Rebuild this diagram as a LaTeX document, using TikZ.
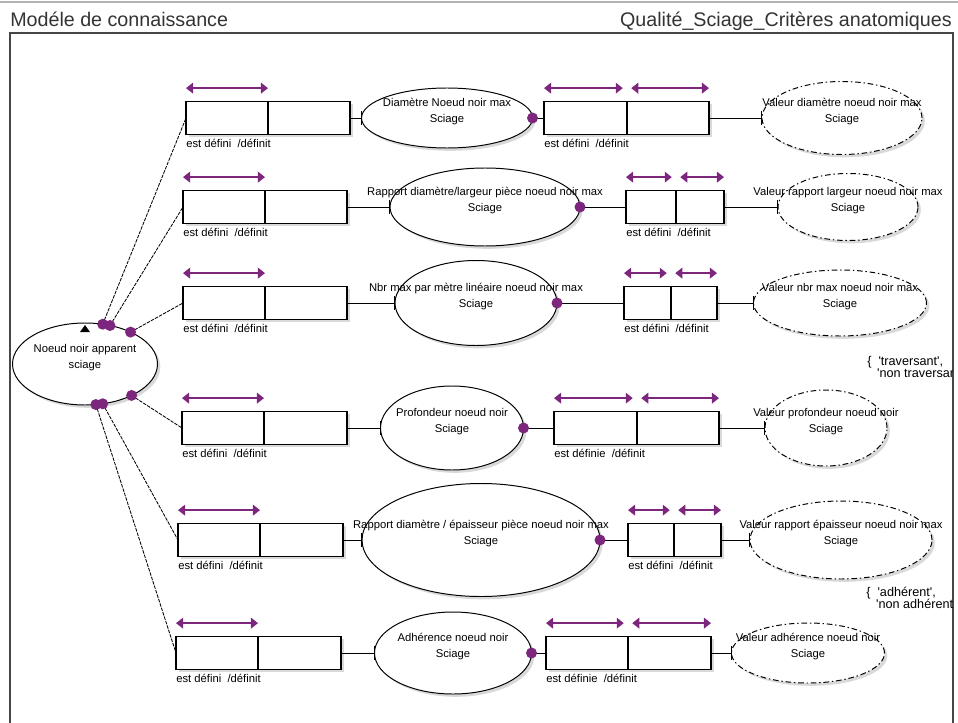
\documentclass[tikz,border=0pt]{standalone}
\usepackage{fontspec}
\setmainfont{Liberation Sans}
\usepackage{tikz}
\usetikzlibrary{shapes.geometric,arrows.meta,positioning,shadows,calc}
\definecolor{cardinal}{RGB}{125,38,125}
\definecolor{cadre}{RGB}{70,70,70}
\newcommand{\pxl}{0.025cm}

\begin{document}
\begin{tikzpicture}[
  x=0.025cm, y=-0.025cm,
  font=\fontsize{8}{11}\selectfont,
  ombre/.style={drop shadow={opacity=0.3,shadow xshift=2pt,shadow yshift=-2pt}},
  entite/.style={draw,ellipse,fill=white,inner sep=0pt,outer sep=0pt,line width=0.7pt,ombre},
  valeur/.style={entite,dash pattern=on 4pt off 2pt on 1pt off 2pt},
  cellule/.style={draw,rectangle,fill=white,minimum height=33*\pxl,inner sep=0pt,outer sep=0pt,line width=1pt,ombre},
  texte/.style={align=center,yshift=4.5pt},
  role/.style={inner sep=0pt},
  card/.style={{Triangle[length=5pt,width=7.5pt]}-{Triangle[length=5pt,width=7.5pt]},line width=1.3pt,color=cardinal},
  pastille/.style={circle,fill=cardinal,inner sep=0pt,minimum size=11*\pxl},
  lien/.style={line width=0.7pt},
  lienbar/.style={lien,-{Bar[width=10pt]}},
  assoc/.style={line width=0.6pt,dash pattern=on 2.5pt off 0.8pt},
  titre/.style={font=\fontsize{14}{16}\selectfont,text=black!80,inner sep=0pt},
  domaine/.style={font=\fontsize{9}{8.5}\selectfont,align=left,inner sep=0pt,anchor=north west},
]
\useasboundingbox (0,0) rectangle (958,722);

% en-tete
\draw[black!30,line width=1.5pt] (0,2) -- (958,2);
\node[titre,anchor=base west] (titreg) at (10,27) {Modéle de connaissance};
\node[titre,anchor=base east] (titred) at (952,27) {Qualité\_Sciage\_Critères anatomiques};
\draw[cadre,line width=1.3pt] (10,740) -- (10,33) -- (953,33) -- (953,740);

% entite centrale
\node[entite,minimum width=145*\pxl,minimum height=82*\pxl] (noeud) at (85,364) {};
\node[texte] (tnoeud) at (noeud) {Noeud noir apparent\\sciage};
\fill ($(noeud.north)+(-5,9)$) -- ++(10,0) -- ++(-5,-7) -- cycle;

% ligne 1
\node[cellule,minimum width=82*\pxl] (r1a) at (227,118) {};
\node[cellule,minimum width=82*\pxl,right=0pt of r1a] (r1b) {};
\node[entite,minimum width=171*\pxl,minimum height=60*\pxl] (e1) at (447,118) {};
\node[texte] (te1) at (e1) {Diamètre Noeud noir max\\Sciage};
\node[cellule,minimum width=83*\pxl] (r1c) at (585.5,118) {};
\node[cellule,minimum width=82*\pxl,right=0pt of r1c] (r1d) {};
\node[valeur,minimum width=160*\pxl,minimum height=73*\pxl] (v1) at (842,118) {};
\node[texte] (tv1) at (v1) {Valeur diamètre noeud noir max\\Sciage};

% ligne 2
\node[cellule,minimum width=82*\pxl] (r2a) at (224,207) {};
\node[cellule,minimum width=82*\pxl,right=0pt of r2a] (r2b) {};
\node[entite,minimum width=190*\pxl,minimum height=78*\pxl] (e2) at (485,207) {};
\node[texte] (te2) at (e2) {Rapport diamètre/largeur pièce noeud noir max\\Sciage};
\node[cellule,minimum width=50*\pxl] (r2c) at (651,207) {};
\node[cellule,minimum width=48*\pxl,right=0pt of r2c] (r2d) {};
\node[valeur,minimum width=140*\pxl,minimum height=67*\pxl] (v2) at (848,207) {};
\node[texte] (tv2) at (v2) {Valeur rapport largeur noeud noir max\\Sciage};

% ligne 3
\node[cellule,minimum width=82*\pxl] (r3a) at (224,303) {};
\node[cellule,minimum width=82*\pxl,right=0pt of r3a] (r3b) {};
\node[entite,minimum width=162*\pxl,minimum height=85*\pxl] (e3) at (476,303) {};
\node[texte] (te3) at (e3) {Nbr max par mètre linéaire noeud noir max\\Sciage};
\node[cellule,minimum width=47*\pxl] (r3c) at (647.5,303) {};
\node[cellule,minimum width=46*\pxl,right=0pt of r3c] (r3d) {};
\node[valeur,minimum width=173*\pxl,minimum height=66*\pxl] (v3) at (840,303) {};
\node[texte] (tv3) at (v3) {Valeur nbr max noeud noir max\\Sciage};

% ligne 4
\node[cellule,minimum width=82*\pxl] (r4a) at (223,428) {};
\node[cellule,minimum width=83*\pxl,right=0pt of r4a] (r4b) {};
\node[entite,minimum width=143*\pxl,minimum height=84*\pxl] (e4) at (452,428) {};
\node[texte] (te4) at (e4) {Profondeur noeud noir\\Sciage};
\node[cellule,minimum width=83*\pxl] (r4c) at (595.5,428) {};
\node[cellule,minimum width=82*\pxl,right=0pt of r4c] (r4d) {};
\node[valeur,minimum width=122*\pxl,minimum height=76*\pxl] (v4) at (826,428) {};
\node[texte] (tv4) at (v4) {Valeur profondeur noeud noir\\Sciage};

% ligne 5
\node[cellule,minimum width=82*\pxl] (r5a) at (219,540) {};
\node[cellule,minimum width=83*\pxl,right=0pt of r5a] (r5b) {};
\node[entite,minimum width=238*\pxl,minimum height=113*\pxl] (e5) at (481,540) {};
\node[texte] (te5) at (e5) {Rapport diamètre / épaisseur pièce noeud noir max\\Sciage};
\node[cellule,minimum width=46*\pxl] (r5c) at (651,540) {};
\node[cellule,minimum width=47*\pxl,right=0pt of r5c] (r5d) {};
\node[valeur,minimum width=182*\pxl,minimum height=78*\pxl] (v5) at (841,540) {};
\node[texte] (tv5) at (v5) {Valeur rapport épaisseur noeud noir max\\Sciage};

% ligne 6
\node[cellule,minimum width=82*\pxl] (r6a) at (217,653) {};
\node[cellule,minimum width=83*\pxl,right=0pt of r6a] (r6b) {};
\node[entite,minimum width=157*\pxl,minimum height=82*\pxl] (e6) at (453,653) {};
\node[texte] (te6) at (e6) {Adhérence noeud noir\\Sciage};
\node[cellule,minimum width=82*\pxl] (r6c) at (587,653) {};
\node[cellule,minimum width=83*\pxl,right=0pt of r6c] (r6d) {};
\node[valeur,minimum width=153*\pxl,minimum height=60*\pxl] (v6) at (808,653) {};
\node[texte] (tv6) at (v6) {Valeur adhérence noeud noir\\Sciage};

% liens
\draw[lienbar] (r1b.east) -- (e1.west);
\draw[lienbar] (r2b.east) -- (e2.west);
\draw[lienbar] (r3b.east) -- (e3.west);
\draw[lienbar] (r4b.east) -- (e4.west);
\draw[lienbar] (r5b.east) -- (e5.west);
\draw[lienbar] (r6b.east) -- (e6.west);

\draw[lien] (e1.east) -- (r1c.west);
\draw[lien] (e2.east) -- (r2c.west);
\draw[lien] (e3.east) -- (r3c.west);
\draw[lien] (e4.east) -- (r4c.west);
\draw[lien] (e5.east) -- (r5c.west);
\draw[lien] (e6.east) -- (r6c.west);

\draw[lienbar] (r1d.east) -- (v1.west);
\draw[lienbar] (r2d.east) -- (v2.west);
\draw[lienbar] (r3d.east) -- (v3.west);
\draw[lienbar] (r4d.east) -- (v4.west);
\draw[lienbar] (r5d.east) -- (v5.west);
\draw[lienbar] (r6d.east) -- (v6.west);

\draw[assoc] (noeud.66) -- (r1a.west);
\draw[assoc] (noeud.57) -- (r2a.west);
\draw[assoc] (noeud.35) -- (r3a.west);
\draw[assoc] (noeud.-34) -- (r4a.west);
\draw[assoc] (noeud.-66) -- (r5a.west);
\draw[assoc] (noeud.-75) -- (r6a.west);

% pastilles
\node[pastille] (p1) at (noeud.66) {};
\node[pastille] (p2) at (noeud.57) {};
\node[pastille] (p3) at (noeud.35) {};
\node[pastille] (p4) at (noeud.-34) {};
\node[pastille] (p5) at (noeud.-66) {};
\node[pastille] (p6) at (noeud.-75) {};
\node[pastille] (d1) at (e1.east) {};
\node[pastille] (d2) at (e2.east) {};
\node[pastille] (d3) at (e3.east) {};
\node[pastille] (d4) at (e4.east) {};
\node[pastille] (d5) at (e5.east) {};
\node[pastille] (d6) at (e6.east) {};

% cardinalites
\draw[card] ([yshift=9.5pt]r1a.north west) -- ([yshift=9.5pt]r1a.north east);
\draw[card] ([yshift=9.5pt]r2a.north west) -- ([yshift=9.5pt]r2a.north east);
\draw[card] ([yshift=9.5pt]r3a.north west) -- ([yshift=9.5pt]r3a.north east);
\draw[card] ([yshift=9.5pt]r4a.north west) -- ([yshift=9.5pt]r4a.north east);
\draw[card] ([yshift=9.5pt]r5a.north west) -- ([yshift=9.5pt]r5a.north east);
\draw[card] ([yshift=9.5pt]r6a.north west) -- ([yshift=9.5pt]r6a.north east);

\draw[card] ([yshift=9.5pt]r1c.north west) -- ([yshift=9.5pt,xshift=-3pt]r1c.north east);
\draw[card] ([yshift=9.5pt,xshift=3pt]r1d.north west) -- ([yshift=9.5pt]r1d.north east);
\draw[card] ([yshift=9.5pt]r2c.north west) -- ([yshift=9.5pt,xshift=-3pt]r2c.north east);
\draw[card] ([yshift=9.5pt,xshift=3pt]r2d.north west) -- ([yshift=9.5pt]r2d.north east);
\draw[card] ([yshift=9.5pt]r3c.north west) -- ([yshift=9.5pt,xshift=-3pt]r3c.north east);
\draw[card] ([yshift=9.5pt,xshift=3pt]r3d.north west) -- ([yshift=9.5pt]r3d.north east);
\draw[card] ([yshift=9.5pt]r4c.north west) -- ([yshift=9.5pt,xshift=-3pt]r4c.north east);
\draw[card] ([yshift=9.5pt,xshift=3pt]r4d.north west) -- ([yshift=9.5pt]r4d.north east);
\draw[card] ([yshift=9.5pt]r5c.north west) -- ([yshift=9.5pt,xshift=-3pt]r5c.north east);
\draw[card] ([yshift=9.5pt,xshift=3pt]r5d.north west) -- ([yshift=9.5pt]r5d.north east);
\draw[card] ([yshift=9.5pt]r6c.north west) -- ([yshift=9.5pt,xshift=-3pt]r6c.north east);
\draw[card] ([yshift=9.5pt,xshift=3pt]r6d.north west) -- ([yshift=9.5pt]r6d.north east);

% roles
\node[role,below right=3pt and 0pt of r1a.south west] (l1a) {est défini~ /définit};
\node[role,below right=3pt and 0pt of r1c.south west] (l1c) {est défini~ /définit};
\node[role,below right=3pt and 0pt of r2a.south west] (l2a) {est défini~ /définit};
\node[role,below right=3pt and 0pt of r2c.south west] (l2c) {est défini~ /définit};
\node[role,below right=3pt and 0pt of r3a.south west] (l3a) {est défini~ /définit};
\node[role,below right=3pt and 0pt of r3c.south west] (l3c) {est défini~ /définit};
\node[role,below right=3pt and 0pt of r4a.south west] (l4a) {est défini~ /définit};
\node[role,below right=3pt and 0pt of r4c.south west] (l4c) {est définie~ /définit};
\node[role,below right=3pt and 0pt of r5a.south west] (l5a) {est défini~ /définit};
\node[role,below right=3pt and 0pt of r5c.south west] (l5c) {est défini~ /définit};
\node[role,below right=3pt and 0pt of r6a.south west] (l6a) {est défini~ /définit};
\node[role,below right=3pt and 0pt of r6c.south west] (l6c) {est définie~ /définit};

% domaines
\begin{scope}
\clip (10,33) rectangle (952,722);
\node[domaine] (dom1) at (867,356) {\{~~\textquotesingle traversant\textquotesingle,\\\hspace*{7pt}\textquotesingle non traversant\textquotesingle};
\node[domaine] (dom2) at (866,587) {\{~~\textquotesingle adhérent\textquotesingle,\\\hspace*{7pt}\textquotesingle non adhérent\textquotesingle};
\end{scope}
\end{tikzpicture}
\end{document}
